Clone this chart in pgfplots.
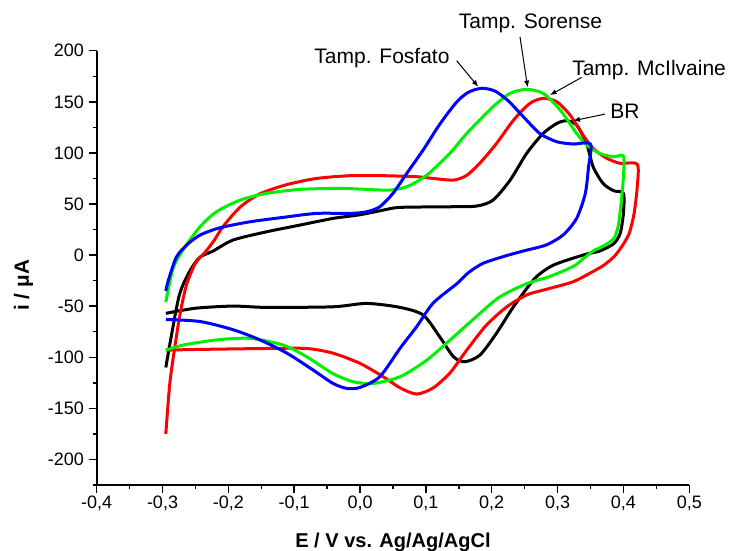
\documentclass[border=0pt]{standalone}
\usepackage{fontspec}
\setmainfont{Liberation Sans}
\usepackage{pgfplots}
\pgfplotsset{compat=1.18}
\usetikzlibrary{arrows.meta}
\definecolor{cvred}{RGB}{255,0,0}
\definecolor{cvgreen}{RGB}{0,240,0}
\definecolor{cvblue}{RGB}{0,0,255}
\begin{document}
\begin{tikzpicture}
\useasboundingbox (0,0) rectangle (547.5bp,413.25bp);
\begin{axis}[
  at={(72.5bp,49.5bp)}, anchor=south west,
  scale only axis, width=444.45bp, height=325.7bp,
  xmin=-0.4, xmax=0.5, ymin=-225, ymax=200,
  axis x line*=bottom, axis y line*=left,
  axis line style={line width=1.3bp},
  xtick={-0.4,-0.3,-0.2,-0.1,0,0.1,0.2,0.3,0.4,0.5},
  xticklabels={{-0,4},{-0,3},{-0,2},{-0,1},{0,0},{0,1},{0,2},{0,3},{0,4},{0,5}},
  minor xtick={-0.35,-0.25,-0.15,-0.05,0.05,0.15,0.25,0.35,0.45},
  ytick={-200,-150,-100,-50,0,50,100,150,200},
  yticklabels={-200,-150,-100,-50,0,50,100,150,200},
  minor ytick={-225,-175,-125,-75,-25,25,75,125,175},
  tick align=outside,
  major tick length=6bp, minor tick length=3bp,
  every tick/.style={black, line width=1.1bp},
  tick label style={font=\fontsize{13.5bp}{16bp}\selectfont},
  xticklabel style={yshift=1bp},
  xlabel={E / V vs. Ag/Ag/AgCl},
  ylabel={i / μA},
  every axis x label/.style={at={(axis description cs:0.5,-0.145)}, anchor=base, font=\fontsize{15bp}{18bp}\selectfont\bfseries},
  every axis y label/.style={at={(axis description cs:-0.1142,0.46)}, rotate=90, anchor=base, font=\fontsize{15.5bp}{18bp}\selectfont\bfseries},
  clip=false,
  every axis plot/.append style={line width=2.25bp, smooth, tension=0.45, line join=round},
]
% BR (black)
\addplot[black] coordinates {
(-0.295,-110) (-0.286,-77) (-0.274,-38) (-0.258,-15) (-0.243,-2) (-0.223,4) (-0.193,14.7)
(-0.142,22.8) (-0.091,29.4) (-0.041,35.9) (0.000,39.5) (0.035,44) (0.061,46.7) (0.137,47.3)
(0.177,48) (0.202,53.8) (0.228,73.4) (0.253,99.5) (0.278,119) (0.299,128.9) (0.314,131.5)
(0.329,127.3) (0.344,109.3) (0.354,86.4) (0.369,70.2) (0.385,63) (0.400,60.4)
(0.400,40.8) (0.395,21.2) (0.385,11) (0.364,4) (0.344,1) (0.314,-5) (0.293,-10) (0.278,-16)
(0.263,-24.5) (0.233,-50.6) (0.207,-76.7) (0.182,-97.9) (0.159,-104.4) (0.142,-99.5)
(0.121,-80) (0.096,-58.7) (0.061,-51.2) (0.010,-47.3) (-0.041,-50.6) (-0.142,-51.2)
(-0.193,-49.9) (-0.250,-52) (-0.295,-57)
};
% McIlvaine (red)
\addplot[cvred] coordinates {
(-0.295,-175) (-0.289,-126) (-0.282,-93) (-0.274,-60) (-0.264,-30) (-0.250,-8) (-0.235,3)
(-0.222,14) (-0.208,28) (-0.182,47) (-0.152,60) (-0.111,69) (-0.066,75) (-0.015,77.7)
(0.035,77.7) (0.086,76.7) (0.111,75) (0.142,73.4) (0.162,78) (0.182,90) (0.207,109)
(0.233,132) (0.258,148.5) (0.278,153.4) (0.299,150) (0.319,137) (0.337,119) (0.354,104.4)
(0.375,94.7) (0.395,89.8) (0.421,89) (0.421,67) (0.416,40) (0.408,20) (0.395,6)
(0.385,-2) (0.370,-10) (0.354,-16) (0.324,-26) (0.288,-32.6) (0.253,-39) (0.223,-50.6)
(0.192,-68.5) (0.162,-93) (0.137,-115) (0.111,-130) (0.086,-136) (0.061,-130)
(0.035,-119) (0.0,-106) (-0.041,-96) (-0.081,-91.4) (-0.142,-91.4) (-0.243,-92.3) (-0.295,-93)
};
% Sorense (green)
\addplot[cvgreen] coordinates {
(-0.295,-46) (-0.284,-13) (-0.268,6) (-0.243,27.7) (-0.218,42.4) (-0.182,53.8)
(-0.142,60.4) (-0.091,64.3) (-0.031,65.3) (0.010,64.3) (0.045,63.6) (0.071,66.9)
(0.101,78) (0.137,100) (0.162,119) (0.202,145.2) (0.228,158.3) (0.253,162.2) (0.278,158.3)
(0.304,142) (0.329,119) (0.344,107.7) (0.364,99.5) (0.385,96.2) (0.400,97)
(0.400,77) (0.397,54) (0.392,28) (0.385,16) (0.370,9) (0.354,4) (0.340,-3) (0.324,-11)
(0.288,-21) (0.253,-28) (0.212,-41) (0.177,-60) (0.137,-83) (0.101,-103) (0.061,-119)
(0.020,-125.6) (-0.010,-124) (-0.041,-116) (-0.081,-99.5) (-0.117,-88) (-0.167,-81.5)
(-0.218,-83) (-0.268,-88) (-0.295,-93)
};
% Fosfato (blue)
\addplot[cvblue] coordinates {
(-0.295,-35) (-0.291,-24.5) (-0.279,-2) (-0.263,10) (-0.243,19.6) (-0.213,26.7)
(-0.167,32.6) (-0.117,36.9) (-0.066,40.8) (-0.015,40.8) (0.010,42.4) (0.030,47.3)
(0.050,60.4) (0.071,80) (0.096,103) (0.121,128) (0.147,150) (0.165,159.5) (0.185,163.3)
(0.205,160.5) (0.225,151) (0.248,135.4) (0.273,119) (0.299,110.9) (0.324,108.7)
(0.350,108.7) (0.347,86) (0.342,60) (0.329,36) (0.309,20) (0.283,10) (0.248,4)
(0.220,-1) (0.187,-8) (0.165,-17) (0.147,-28) (0.111,-47) (0.086,-70) (0.061,-91)
(0.030,-119) (0.0,-129.5) (-0.020,-130.5) (-0.041,-125.6) (-0.071,-112.6) (-0.111,-96)
(-0.152,-83) (-0.193,-73) (-0.243,-65) (-0.295,-63)
};
% annotations
\node[anchor=base, inner sep=0pt, font=\fontsize{15.75bp}{18bp}\selectfont] at (axis cs:0.0333,187.7) {Tamp. Fosfato};
\draw[-{Latex[length=5bp,width=4bp]}, line width=0.75bp] (axis cs:0.1467,190.2) -- (axis cs:0.1795,164.8);
\node[anchor=base, inner sep=0pt, font=\fontsize{15.75bp}{18bp}\selectfont] at (axis cs:0.2588,221.9) {Tamp. Sorense};
\draw[-{Latex[length=5bp,width=4bp]}, line width=0.75bp] (axis cs:0.2429,213.7) -- (axis cs:0.2545,164.2);
\node[anchor=base, inner sep=0pt, font=\fontsize{15.75bp}{18bp}\selectfont] at (axis cs:0.439,176.2) {Tamp. McIlvaine};
\draw[-{Latex[length=5bp,width=4bp]}, line width=0.75bp] (axis cs:0.3366,173.9) -- (axis cs:0.2884,156.6);
\node[anchor=base, inner sep=0pt, font=\fontsize{15.75bp}{18bp}\selectfont] at (axis cs:0.4023,133.8) {BR};
\draw[-{Latex[length=5bp,width=4bp]}, line width=0.75bp] (axis cs:0.372,138) -- (axis cs:0.3238,131.5);
\end{axis}
\end{tikzpicture}
\end{document}
